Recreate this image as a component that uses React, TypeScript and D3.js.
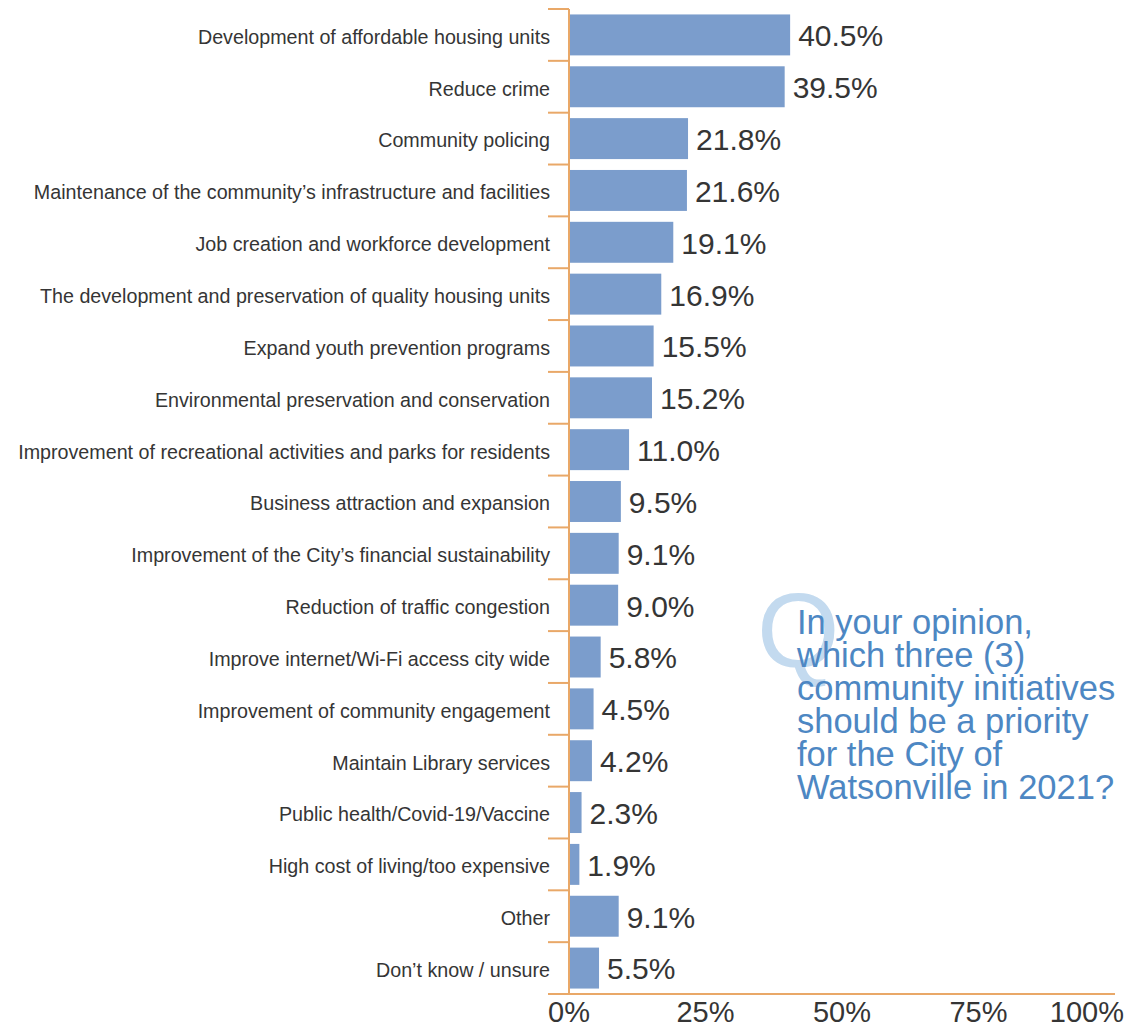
import { useEffect, useRef } from "react";
import * as d3 from "d3";

const categories = [
  "Development of affordable housing units",
  "Reduce crime",
  "Community policing",
  "Maintenance of the community\u2019s infrastructure and facilities",
  "Job creation and workforce development",
  "The development and preservation of quality housing units",
  "Expand youth prevention programs",
  "Environmental preservation and conservation",
  "Improvement of recreational activities and parks for residents",
  "Business attraction and expansion",
  "Improvement of the City\u2019s financial sustainability",
  "Reduction of traffic congestion",
  "Improve internet/Wi-Fi access city wide",
  "Improvement of community engagement",
  "Maintain Library services",
  "Public health/Covid-19/Vaccine",
  "High cost of living/too expensive",
  "Other",
  "Don\u2019t know / unsure",
];

const values = [
  40.5, 39.5, 21.8, 21.6, 19.1, 16.9, 15.5, 15.2, 11.0, 9.5, 9.1, 9.0, 5.8, 4.5,
  4.2, 2.3, 1.9, 9.1, 5.5,
];

const tickValues = [0, 25, 50, 75, 100];

const questionLines = [
  "In your opinion,",
  "which three (3)",
  "community initiatives",
  "should be a priority",
  "for the City of",
  "Watsonville in 2021?",
];

const W = 1138;
const H = 1026;

export default function App() {
  const svgRef = useRef<SVGSVGElement>(null);

  useEffect(() => {
    const svg = d3.select(svgRef.current);
    svg.selectAll("*").remove();

    const font = "'Liberation Sans', Arial, sans-serif";
    const axisColor = "#e9a868";
    const textColor = "#353535";
    const barColor = "#7b9dcc";

    const top = 9;
    const bottom = 994;

    const x = d3.scaleLinear().domain([0, 100]).range([569, 1115]);
    const y = d3
      .scaleBand()
      .domain(categories)
      .range([top, bottom])
      .paddingInner(0.21)
      .paddingOuter(0.105);

    const data = categories.map((c, i) => ({ name: c, value: values[i] }));

    // question callout, big Q sits behind the text
    const q = svg.append("g");
    q.append("text")
      .attr("x", 757)
      .attr("y", 667)
      .attr("font-family", font)
      .attr("font-size", 106)
      .attr("fill", "#c3daef")
      .text("Q");
    q.selectAll("text.line")
      .data(questionLines)
      .join("text")
      .attr("class", "line")
      .attr("x", 797)
      .attr("y", (_, i) => 634 + i * 33)
      .attr("font-family", font)
      .attr("font-size", 34.5)
      .attr("fill", "#4d87c3")
      .text((d) => d);

    // bars
    svg
      .append("g")
      .selectAll("rect")
      .data(data)
      .join("rect")
      .attr("x", x(0) + 1)
      .attr("y", (d) => y(d.name)!)
      .attr("width", (d) => x(d.value) - x(0) - 1)
      .attr("height", y.bandwidth())
      .attr("fill", barColor);

    // value labels
    svg
      .append("g")
      .selectAll("text")
      .data(data)
      .join("text")
      .attr("x", (d) => x(d.value) + 8)
      .attr("y", (d) => y(d.name)! + y.bandwidth() / 2)
      .attr("dy", "0.38em")
      .attr("font-family", font)
      .attr("font-size", 30)
      .attr("fill", textColor)
      .text((d) => d.value.toFixed(1) + "%");

    // category labels
    svg
      .append("g")
      .selectAll("text")
      .data(data)
      .join("text")
      .attr("x", 550)
      .attr("y", (d) => y(d.name)! + y.bandwidth() / 2)
      .attr("dy", "0.45em")
      .attr("text-anchor", "end")
      .attr("font-family", font)
      .attr("font-size", 19.7)
      .attr("fill", textColor)
      .text((d) => d.name);

    // vertical axis with ticks between categories
    const step = y.step();
    const boundaries = d3.range(categories.length).map((i) => top + i * step);
    const axis = svg.append("g").attr("stroke", axisColor).attr("stroke-width", 2);
    axis
      .append("line")
      .attr("x1", x(0))
      .attr("x2", x(0))
      .attr("y1", top)
      .attr("y2", bottom);
    axis
      .selectAll("line.tick")
      .data(boundaries)
      .join("line")
      .attr("class", "tick")
      .attr("x1", x(0) - 21)
      .attr("x2", x(0))
      .attr("y1", (d) => d)
      .attr("y2", (d) => d);
    axis
      .append("line")
      .attr("x1", x(0) - 21)
      .attr("x2", x(100))
      .attr("y1", bottom)
      .attr("y2", bottom);

    // x tick labels
    svg
      .append("g")
      .selectAll("text")
      .data(tickValues)
      .join("text")
      .attr("x", (d) => (d === 100 ? x(d) + 9 : x(d)))
      .attr("y", 1022)
      .attr("text-anchor", (d) => (d === 100 ? "end" : "middle"))
      .attr("font-family", font)
      .attr("font-size", 29)
      .attr("fill", textColor)
      .text((d) => d + "%");
  }, []);

  return (
    <svg
      ref={svgRef}
      width={W}
      height={H}
      style={{ position: "absolute", left: 0, top: 0, background: "#fff" }}
    />
  );
}
